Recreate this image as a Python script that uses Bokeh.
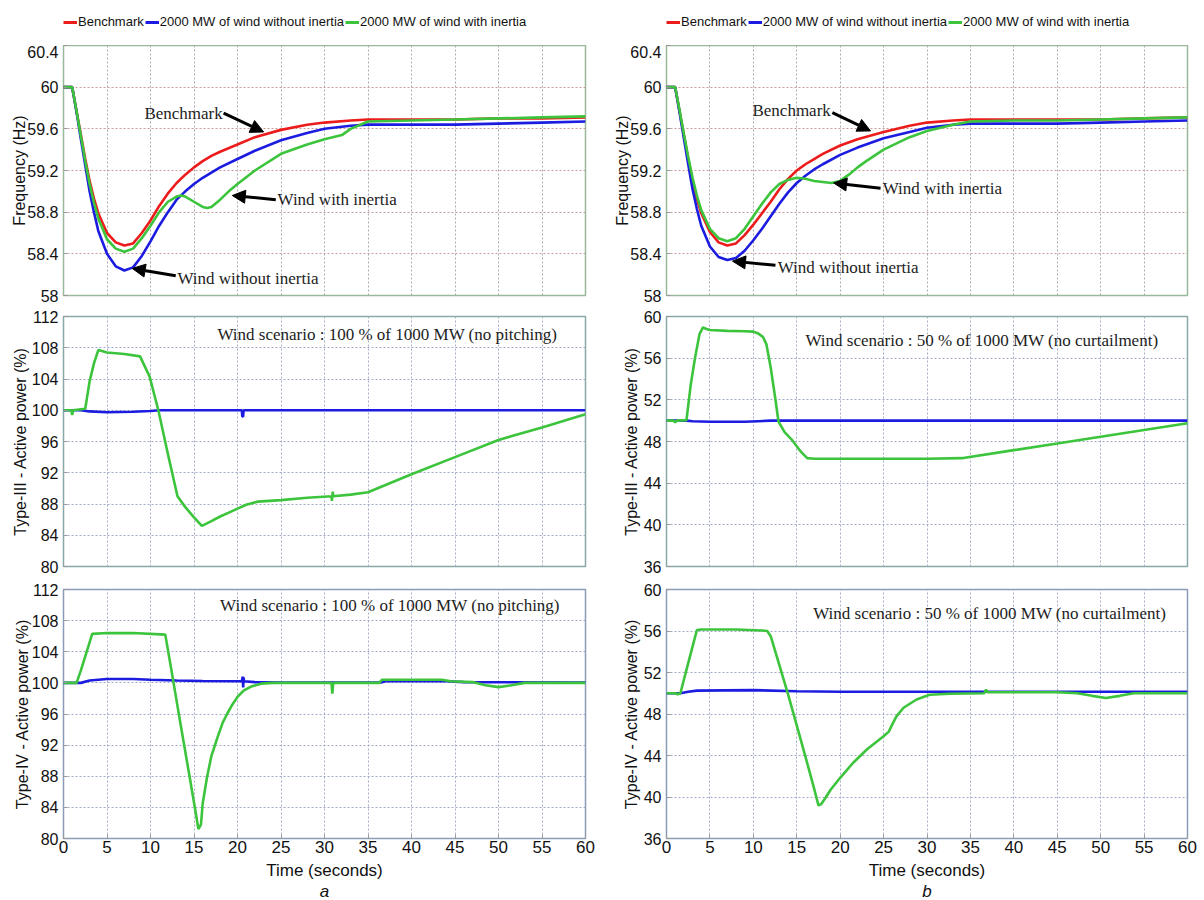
from bokeh.plotting import figure
from bokeh.layouts import gridplot
from bokeh.models import (Range1d, FixedTicker, Legend, LegendItem, Label,
                          Arrow, NormalHead, Title)
from bokeh.embed import file_html
from bokeh.resources import INLINE

# ---------------- data ----------------
SERIES = ["Benchmark", "2000 MW of wind without inertia", "2000 MW of wind with inertia"]
X_TICKS = [0, 5, 10, 15, 20, 25, 30, 35, 40, 45, 50, 55, 60]
FREQ_TICKS = [58, 58.4, 58.8, 59.2, 59.6, 60, 60.4]
FREQ_TICK_LABELS = ["58", "58.4", "58.8", "59.2", "59.6", "60", "60.4"]
P100_TICKS = [80, 84, 88, 92, 96, 100, 104, 108, 112]
P50_TICKS = [36, 40, 44, 48, 52, 56, 60]

# frequency, case a
t_freq = [0, 1, 1.5, 2, 2.5, 3, 3.5, 4, 5, 6, 7, 8, 9, 10, 11, 12, 13, 14, 15, 16, 17, 18,
          20, 22, 25, 28, 30, 33, 35, 40, 45, 50, 55, 60]
freq_a_bench = [60, 60, 59.77, 59.54, 59.31, 59.1, 58.93, 58.79, 58.6, 58.51, 58.48, 58.5, 58.6,
                58.72, 58.86, 58.98, 59.08, 59.16, 59.23, 59.29, 59.34, 59.38, 59.45, 59.52,
                59.59, 59.64, 59.66, 59.68, 59.69, 59.69, 59.69, 59.7, 59.7, 59.71]
freq_a_noinert = [60, 60, 59.76, 59.5, 59.25, 59.0, 58.8, 58.62, 58.4, 58.28, 58.24, 58.27, 58.38,
                  58.52, 58.67, 58.8, 58.92, 59.0, 59.07, 59.13, 59.18, 59.23, 59.31, 59.39,
                  59.49, 59.56, 59.6, 59.63, 59.64, 59.64, 59.64, 59.65, 59.66, 59.67]
t_freq_a_inert = [0, 1, 1.5, 2, 2.5, 3, 3.5, 4, 5, 6, 7, 8, 9, 10, 11, 12, 13, 13.5, 14, 15, 16,
                  16.5, 17, 18, 19, 20, 22, 25, 28, 30, 32, 33, 35, 40, 45, 50, 55, 60]
freq_a_inert = [60, 60, 59.77, 59.53, 59.29, 59.07, 58.89, 58.74, 58.54, 58.45, 58.42, 58.45, 58.55,
                58.67, 58.8, 58.9, 58.95, 58.96, 58.95, 58.9, 58.85, 58.84, 58.85, 58.92, 59.0,
                59.07, 59.2, 59.36, 59.45, 59.5, 59.54, 59.6, 59.67, 59.68, 59.69, 59.7, 59.71, 59.72]

# frequency, case b
freq_b_bench = [60, 60, 59.77, 59.54, 59.31, 59.1, 58.93, 58.79, 58.61, 58.51, 58.48, 58.5, 58.58,
                58.68, 58.79, 58.9, 59.02, 59.12, 59.2, 59.26, 59.31, 59.36, 59.44, 59.5, 59.57,
                59.63, 59.66, 59.68, 59.69, 59.69, 59.69, 59.69, 59.7, 59.71]
freq_b_noinert = [60, 60, 59.76, 59.51, 59.26, 59.02, 58.83, 58.67, 58.47, 58.37, 58.34, 58.36,
                  58.43, 58.53, 58.64, 58.76, 58.88, 58.99, 59.08, 59.15, 59.21, 59.26, 59.35,
                  59.42, 59.51, 59.57, 59.61, 59.64, 59.65, 59.65, 59.65, 59.66, 59.67, 59.68]
t_freq_b_inert = [0, 1, 1.5, 2, 2.5, 3, 3.5, 4, 5, 6, 7, 8, 9, 10, 11, 12, 13, 14, 15, 16, 17, 18,
                  19, 20, 21, 22, 23, 25, 28, 30, 33, 35, 40, 45, 50, 55, 60]
freq_b_inert = [60, 60, 59.78, 59.55, 59.33, 59.13, 58.96, 58.82, 58.64, 58.55, 58.52, 58.55, 58.64,
                58.76, 58.88, 58.99, 59.07, 59.11, 59.13, 59.12, 59.1, 59.09, 59.08, 59.1, 59.16,
                59.23, 59.29, 59.4, 59.52, 59.58, 59.64, 59.67, 59.68, 59.68, 59.69, 59.7, 59.71]

# Type-III active power, case a
t3a_t_noinert = [0, 2, 3, 5, 8, 10, 11, 20.5, 20.55, 20.65, 20.7, 60]
t3a_noinert = [100, 100, 99.85, 99.75, 99.8, 99.9, 100, 100, 99.2, 99.2, 100, 100]
t3a_t_inert = [0, 0.9, 1.0, 1.1, 2.5, 3.0, 3.5, 4.0, 5, 7, 8.8, 9.9, 10.9, 11.9, 13.1, 14, 15,
               15.9, 17, 18, 19, 20, 21, 22.3, 25, 28, 30.8, 30.85, 30.95, 31.0, 33, 35, 40, 45,
               50, 55, 60]
t3a_inert = [100, 100, 99.4, 100, 100.2, 103.7, 106.0, 107.7, 107.4, 107.2, 106.9, 104.3, 100,
             94.9, 89.0, 87.6, 86.3, 85.2, 85.8, 86.4, 86.9, 87.4, 87.9, 88.3, 88.5, 88.8, 89.0,
             88.4, 89.6, 89.0, 89.2, 89.5, 91.8, 94.0, 96.2, 97.8, 99.5]

# Type-IV active power, case a
t4a_t_noinert = [0, 2, 3, 5, 8, 10, 13, 16, 20.5, 20.6, 20.65, 20.7, 20.75, 22, 25, 36.5, 37, 44,
                 46, 60]
t4a_noinert = [100, 100, 100.3, 100.5, 100.5, 100.4, 100.3, 100.25, 100.2, 100.8, 99.4, 100.7,
               100.2, 100.1, 100.05, 100.05, 100.2, 100.2, 100.1, 100.05]
t4a_t_inert = [0, 1.5, 2.0, 2.5, 3.0, 3.3, 5, 8, 11.7, 12.5, 13.5, 14.5, 15.2, 15.5, 15.8, 16.0,
               16.5, 17.0, 17.7, 18.3, 18.8, 19.4, 20, 20.7, 21.5, 22.7, 24, 30.8, 30.9, 31.0,
               36.3, 36.6, 43.5, 44.5, 47, 48.5, 50, 51.5, 53, 60]
t4a_inert = [100, 100, 101.6, 103.4, 105.2, 106.3, 106.4, 106.4, 106.2, 101.0, 94.4, 87.9, 83.3,
             81.2, 81.8, 84.5, 87.9, 90.6, 93.0, 94.9, 96.0, 97.2, 98.2, 99.0, 99.5, 99.9, 100,
             100, 98.6, 100, 100, 100.4, 100.4, 100.2, 100.1, 99.7, 99.45, 99.7, 100, 100]

# Type-III active power, case b
t3b_t_noinert = [0, 2.3, 3, 5, 9, 10.5, 12, 60]
t3b_noinert = [50, 50, 49.95, 49.9, 49.9, 49.95, 50, 50]
t3b_t_inert = [0, 0.8, 1.0, 1.2, 2.3, 2.8, 3.3, 3.8, 4.2, 4.6, 5, 7, 9, 10, 10.5, 11.1, 11.5, 12,
               12.5, 12.9, 13.6, 14.5, 15.5, 16.2, 17, 20, 25, 30, 34, 40, 45, 50, 55, 60]
t3b_inert = [50, 50, 49.85, 50, 50.05, 53.5, 56.1, 58.3, 58.95, 58.8, 58.7, 58.62, 58.58, 58.55,
             58.4, 58.05, 57.35, 55.1, 52.3, 49.9, 48.9, 48.1, 47.0, 46.4, 46.35, 46.35, 46.35,
             46.35, 46.4, 47.17, 47.8, 48.46, 49.1, 49.75]

# Type-IV active power, case b
t4b_t_noinert = [0, 1.6, 2.5, 3.5, 10, 15, 20, 60]
t4b_noinert = [50, 50, 50.15, 50.25, 50.3, 50.2, 50.15, 50.15]
t4b_t_inert = [0, 1.0, 1.3, 1.6, 2.0, 2.5, 3.0, 3.5, 4, 8, 11, 11.6, 12, 13, 14, 15, 16, 17, 17.5,
               17.8, 18.3, 18.9, 20, 21.5, 23.1, 25, 25.6, 26.0, 26.5, 27.3, 28.8, 30.3, 32.6,
               36.6, 36.8, 37.0, 45, 47.3, 49, 50.6, 52.2, 53.8, 60]
t4b_inert = [50, 50, 49.9, 50, 51.3, 52.9, 54.5, 56.1, 56.15, 56.15, 56.05, 56.0, 55.5, 52.7,
             49.9, 46.9, 43.9, 40.8, 39.2, 39.3, 39.9, 40.7, 41.85, 43.3, 44.6, 45.85, 46.3, 47.0,
             47.8, 48.6, 49.4, 49.85, 49.95, 50.0, 50.35, 50.1, 50.1, 50.0, 49.75, 49.55, 49.75,
             50.0, 50.0]

# annotations (text, x, y) and arrows (x_start, y_start, x_end, y_end)
labels_freq_a = [("Benchmark", 9.3, 59.75), ("Wind with inertia", 24.6, 58.92),
                 ("Wind without inertia", 13.1, 58.16)]
arrows_freq_a = [(18.4, 59.75, 23.0, 59.57), (24.4, 58.92, 19.4, 58.96), (12.9, 58.19, 7.9, 58.26)]
labels_freq_b = [("Benchmark", 9.9, 59.775), ("Wind with inertia", 24.9, 59.03),
                 ("Wind without inertia", 12.8, 58.27)]
arrows_freq_b = [(19.1, 59.755, 23.5, 59.58), (24.65, 59.03, 19.25, 59.08), (12.55, 58.29, 7.6, 58.33)]
scen_a = "Wind scenario : 100 % of 1000 MW (no pitching)"
scen_b = "Wind scenario : 50 % of 1000 MW (no curtailment)"
scen_pos = {"t3a": (17.7, 109.7), "t4a": (18.0, 109.9), "t3b": (16.0, 57.7), "t4b": (16.9, 57.7)}

# ---------------- style ----------------
RED, BLUE, GREEN = "#ec1c1c", "#1c1ce0", "#3cc43c"
SANS, SERIF = "Liberation Sans", "Liberation Serif"
LW = 2.6


def col_geom(col):
    return (63, 15, 522) if col == 0 else (66, 17, 521)


def make_panel(col, row, yr, yticks, ylabels, ylabel, lab_standoff):
    left, right, fw = col_geom(col)
    tops = [0, 11, 11]
    bottoms = [10, 12, 62]
    fhs = [250, 250, 249]
    p = figure(frame_width=fw, frame_height=fhs[row], min_border_left=left,
               min_border_right=right, min_border_top=tops[row],
               min_border_bottom=bottoms[row], x_range=Range1d(0, 60),
               y_range=Range1d(*yr), output_backend="svg", toolbar_location=None,
               background_fill_color="white", border_fill_color="white")
    outline = ["#9ab89a", "#8aa8a8", "#8a9ab8"][row]
    p.outline_line_color = outline
    p.outline_line_width = 1.5
    p.xaxis.ticker = FixedTicker(ticks=X_TICKS)
    p.yaxis.ticker = FixedTicker(ticks=yticks)
    p.yaxis.major_label_overrides = {v: s for v, s in zip(yticks, ylabels)}
    for ax in (p.xaxis[0], p.yaxis[0]):
        ax.axis_line_color = None
        ax.major_tick_in = 4
        ax.major_tick_out = 0
        ax.major_tick_line_color = "#999999"
        ax.minor_tick_line_color = None
        ax.major_label_text_font = SANS
        ax.major_label_text_color = "#111111"
    p.yaxis.major_label_text_font_size = "16px"
    p.yaxis.major_label_standoff = 5
    p.yaxis.axis_label = ylabel
    p.yaxis.axis_label_text_font = SANS
    p.yaxis.axis_label_text_font_size = "16px"
    p.yaxis.axis_label_text_font_style = "normal"
    p.yaxis.axis_label_text_color = "#111111"
    p.yaxis.axis_label_standoff = lab_standoff
    if row == 2:
        p.xaxis.major_label_text_font_size = "17px"
        p.xaxis.major_label_standoff = 2
        p.xaxis.axis_label = "Time (seconds)"
        p.xaxis.axis_label_text_font = SANS
        p.xaxis.axis_label_text_font_size = "17px"
        p.xaxis.axis_label_text_font_style = "normal"
        p.xaxis.axis_label_text_color = "#111111"
        p.xaxis.axis_label_standoff = 5
        p.add_layout(Title(text="a" if col == 0 else "b", align="center",
                           text_font=SANS, text_font_size="17px",
                           text_font_style="italic", text_color="#111111",
                           standoff=-6, offset=0), "below")
    else:
        p.xaxis.visible = False
    if row == 0:
        p.ygrid.grid_line_color = "#c99a9a"
        p.xgrid.grid_line_color = "#b0a8b4"
    else:
        p.ygrid.grid_line_color = "#a0a8c8"
        p.xgrid.grid_line_color = "#a8acc4"
    for g in (p.xgrid[0], p.ygrid[0]):
        g.grid_line_dash = "2 2"
        g.grid_line_width = 1
    return p


def make_legend_fig(col, series_data):
    left, right, fw = col_geom(col)
    lf = figure(frame_width=fw, frame_height=45, min_border_left=left, min_border_right=right,
                min_border_top=0, min_border_bottom=0, x_range=Range1d(0, 60),
                y_range=Range1d(0, 1), output_backend="svg", toolbar_location=None,
                background_fill_color="white", border_fill_color="white")
    lf.axis.visible = False
    lf.grid.visible = False
    lf.outline_line_color = None
    # legend proxies: the same series, lying outside this strip's visible range
    rs = [lf.line(t, v, line_color=c, line_width=3)
          for (t, v), c in zip(series_data, (RED, BLUE, GREEN))]
    leg = Legend(items=[LegendItem(label=s, renderers=[r]) for s, r in zip(SERIES, rs)],
                 orientation="horizontal", location=(0, 16), margin=0, padding=0,
                 spacing=1, glyph_width=14, glyph_height=14, label_height=14,
                 label_standoff=1, label_text_font=SANS, label_text_font_size="13px",
                 label_text_color="#111111", border_line_color=None,
                 background_fill_alpha=0)
    lf.add_layout(leg)
    return lf


def add_annotations(p, labels, arrows):
    for txt, x, y in labels:
        p.add_layout(Label(x=x, y=y, text=txt, text_font=SERIF, text_font_size="17px",
                           text_baseline="middle", text_color="#222222"))
    for xs, ys, xe, ye in arrows:
        p.add_layout(Arrow(x_start=xs, y_start=ys, x_end=xe, y_end=ye, line_width=3,
                           line_color="black",
                           end=NormalHead(size=13, fill_color="black", line_color="black",
                                          line_width=1)))


def add_scen(p, txt, pos):
    p.add_layout(Label(x=pos[0], y=pos[1], text=txt, text_font=SERIF, text_font_size="17px",
                       text_baseline="middle", text_color="#222222"))


legends = [
    make_legend_fig(0, [(t_freq, freq_a_bench), (t_freq, freq_a_noinert),
                        (t_freq_a_inert, freq_a_inert)]),
    make_legend_fig(1, [(t_freq, freq_b_bench), (t_freq, freq_b_noinert),
                        (t_freq_b_inert, freq_b_inert)]),
]

# ---- top row: frequency ----
panels = []
for col, (bench, noin, tin, inert, labs, arrs) in enumerate([
        (freq_a_bench, freq_a_noinert, t_freq_a_inert, freq_a_inert, labels_freq_a, arrows_freq_a),
        (freq_b_bench, freq_b_noinert, t_freq_b_inert, freq_b_inert, labels_freq_b, arrows_freq_b)]):
    p = make_panel(col, 0, (58, 60.4), FREQ_TICKS, FREQ_TICK_LABELS, "Frequency (Hz)", -4)
    p.line(t_freq, bench, line_color=RED, line_width=LW)
    p.line(t_freq, noin, line_color=BLUE, line_width=LW)
    p.line(tin, inert, line_color=GREEN, line_width=LW)
    add_annotations(p, labs, arrs)
    panels.append(p)

# ---- middle row: Type-III ----
mid = []
for col, (tn, vn, ti, vi, yr, ticks, txt, key) in enumerate([
        (t3a_t_noinert, t3a_noinert, t3a_t_inert, t3a_inert, (80, 112), P100_TICKS, scen_a, "t3a"),
        (t3b_t_noinert, t3b_noinert, t3b_t_inert, t3b_inert, (36, 60), P50_TICKS, scen_b, "t3b")]):
    p = make_panel(col, 1, yr, ticks, [str(v) for v in ticks], "Type-III - Active power (%)",
                   0 if col == 0 else 1)
    p.line(tn, vn, line_color=BLUE, line_width=LW)
    p.line(ti, vi, line_color=GREEN, line_width=LW)
    add_scen(p, txt, scen_pos[key])
    mid.append(p)

# ---- bottom row: Type-IV ----
bot = []
for col, (tn, vn, ti, vi, yr, ticks, txt, key) in enumerate([
        (t4a_t_noinert, t4a_noinert, t4a_t_inert, t4a_inert, (80, 112), P100_TICKS, scen_a, "t4a"),
        (t4b_t_noinert, t4b_noinert, t4b_t_inert, t4b_inert, (36, 60), P50_TICKS, scen_b, "t4b")]):
    p = make_panel(col, 2, yr, ticks, [str(v) for v in ticks], "Type-IV - Active power (%)",
                   -2 if col == 0 else 1)
    p.line(tn, vn, line_color=BLUE, line_width=LW)
    p.line(ti, vi, line_color=GREEN, line_width=LW)
    add_scen(p, txt, scen_pos[key])
    bot.append(p)

grid = gridplot([legends, panels, mid, bot], toolbar_location=None)
open("out.html", "w").write(file_html(grid, INLINE))
